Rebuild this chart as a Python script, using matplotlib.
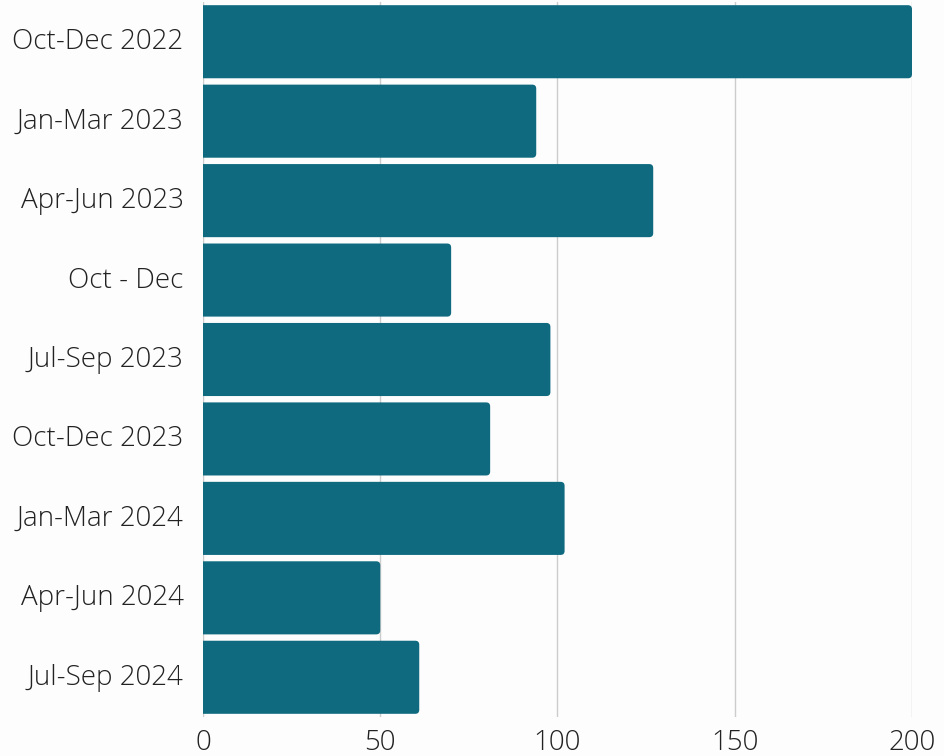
import matplotlib.pyplot as plt
from matplotlib.patches import FancyBboxPatch
from matplotlib.transforms import ScaledTranslation

quarters = ['Oct-Dec 2022', 'Jan-Mar 2023', 'Apr-Jun 2023', 'Oct - Dec', 'Jul-Sep 2023',
            'Oct-Dec 2023', 'Jan-Mar 2024', 'Apr-Jun 2024', 'Jul-Sep 2024']
counts = [200, 94, 127, 70, 98, 81, 102, 50, 61]
x_ticks = [0, 50, 100, 150, 200]

bar_color = '#0f6a7f'
bg = '#fdfdfd'

plt.rcParams['font.family'] = ['Open Sans', 'DejaVu Sans']

fig = plt.figure(figsize=(9.45, 7.56), dpi=100, facecolor=bg)
ax = fig.add_axes([203 / 945, 1 - 717 / 756, 709 / 945, 715 / 756])
ax.set_facecolor(bg)

y = list(range(len(quarters)))
bars = ax.barh(y, counts, height=0.92, color=bar_color)
ax.set_xlim(0, 200)
ax.set_ylim(len(quarters) - 0.5, -0.5)

# swap the plain bars for ones with rounded right corners
x_per_px = 200 / 709
y_per_px = len(quarters) / 715
r = 4 * x_per_px
for b in bars:
    b.set_visible(False)
    p = FancyBboxPatch((b.get_x() - 2 * r, b.get_y()), b.get_width() + 2 * r, b.get_height(),
                       boxstyle=f'round,pad=0,rounding_size={r}',
                       mutation_aspect=y_per_px / x_per_px,
                       facecolor=bar_color, edgecolor='none', zorder=2)
    ax.add_patch(p)

ax.set_yticks(y)
ax.set_yticklabels(quarters, fontweight='light')
ax.set_xticks(x_ticks)
ax.set_xticklabels([str(t) for t in x_ticks], fontweight='light')
ax.tick_params(axis='y', length=0, pad=14, labelsize=20, labelcolor='#222222')
ax.tick_params(axis='x', length=0, pad=9, labelsize=20, labelcolor='#222222')
# nudge the category labels up a little
shift = ScaledTranslation(0, 3 / 100, fig.dpi_scale_trans)
for lab in ax.get_yticklabels():
    lab.set_transform(lab.get_transform() + shift)
ax.grid(axis='x', color='#cccccc', linewidth=1)
ax.set_axisbelow(True)
for s in ax.spines.values():
    s.set_visible(False)

fig.savefig('out.png', dpi=100, facecolor=bg)
